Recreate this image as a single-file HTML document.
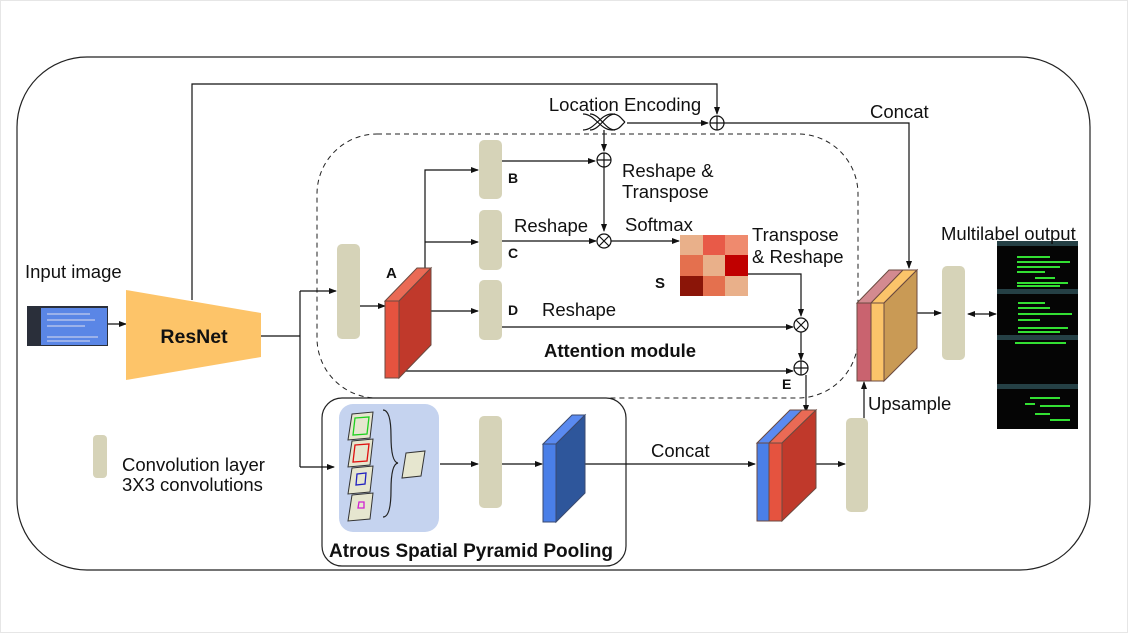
<!DOCTYPE html>
<html><head><meta charset="utf-8"><style>
html,body{margin:0;padding:0;background:#fff}
svg{display:block}
text{font-family:"Liberation Sans",sans-serif;font-size:18.5px;fill:#111}
.b{font-weight:bold}
</style></head><body>
<svg width="1128" height="633" viewBox="0 0 1128 633" xmlns="http://www.w3.org/2000/svg">
<defs>
<marker id="ar" markerWidth="8" markerHeight="8" refX="7" refY="4" orient="auto" markerUnits="userSpaceOnUse">
<path d="M0,1 L8,4 L0,7 z" fill="#111"/></marker>
<marker id="al" markerWidth="8" markerHeight="8" refX="1" refY="4" orient="auto" markerUnits="userSpaceOnUse">
<path d="M8,1 L0,4 L8,7 z" fill="#111"/></marker>
</defs>
<rect x="0.5" y="0.5" width="1127" height="632" fill="#fff" stroke="#e6e6e6"/>
<rect x="17" y="57" width="1073" height="513" rx="70" fill="none" stroke="#222" stroke-width="1.2"/>
<rect x="317" y="134" width="541" height="264" rx="60" fill="none" stroke="#222" stroke-dasharray="5,4"/>
<rect x="322" y="398" width="304" height="168" rx="20" fill="none" stroke="#222" stroke-width="1.2"/>
<rect x="339" y="404" width="100" height="128" rx="14" fill="#c5d3ef"/>

<g stroke="#111" stroke-width="1.2" fill="none">
<path d="M192,300 V84 H717 V114" marker-end="url(#ar)"/>
<path d="M627,123 H708" marker-end="url(#ar)"/>
<path d="M724,123 H909 V268" marker-end="url(#ar)"/>
<path d="M604,130 V151" marker-end="url(#ar)"/>
<path d="M95,324 H126" marker-end="url(#ar)"/>
<path d="M261,336 H300"/>
<path d="M300,291 V467"/>
<path d="M300,291 H336" marker-end="url(#ar)"/>
<path d="M300,467 H334" marker-end="url(#ar)"/>
<path d="M360,306 H385" marker-end="url(#ar)"/>
<path d="M425,268 V170 H478" marker-end="url(#ar)"/>
<path d="M425,242 H478" marker-end="url(#ar)"/>
<path d="M427,311 H478" marker-end="url(#ar)"/>
<path d="M502,161 H595" marker-end="url(#ar)"/>
<path d="M604,167 V231" marker-end="url(#ar)"/>
<path d="M502,241 H596" marker-end="url(#ar)"/>
<path d="M611,241 H679" marker-end="url(#ar)"/>
<path d="M748,274 H801 V316" marker-end="url(#ar)"/>
<path d="M502,327 H793" marker-end="url(#ar)"/>
<path d="M801,332 V360" marker-end="url(#ar)"/>
<path d="M404,371 H793" marker-end="url(#ar)"/>
<path d="M806,375 V412" marker-end="url(#ar)"/>
<path d="M440,464 H478" marker-end="url(#ar)"/>
<path d="M502,464 H542" marker-end="url(#ar)"/>
<path d="M585,464 H755" marker-end="url(#ar)"/>
<path d="M802,464 H845" marker-end="url(#ar)"/>
<path d="M864,418 V382" marker-end="url(#ar)"/>
<path d="M917,313 H941" marker-end="url(#ar)"/>
<path d="M968,314 H996" marker-start="url(#al)" marker-end="url(#ar)"/>
</g>

<g stroke="#111" stroke-width="1.2" fill="#fff">
<circle cx="717" cy="123" r="7"/><path d="M710,123H724M717,116V130"/>
<circle cx="604" cy="160" r="7"/><path d="M597,160H611M604,153V167"/>
<circle cx="604" cy="241" r="7"/><path d="M599,236L609,246M609,236L599,246"/>
<circle cx="801" cy="325" r="7"/><path d="M796,320L806,330M806,320L796,330"/>
<circle cx="801" cy="368" r="7"/><path d="M794,368H808M801,361V375"/>
</g>
<g stroke="#111" fill="none" stroke-width="1.2">
<path d="M583,114 C595,114 600,130 612,130 C620,130 622,124 625,122"/>
<path d="M583,130 C595,130 600,114 612,114 C620,114 622,120 625,122"/>
<path d="M590,114 C600,114 605,130 615,130 M590,130 C600,130 605,114 615,114"/>
</g>

<rect x="27" y="306" width="81" height="40" fill="#2a2f3a"/>
<rect x="41" y="308" width="66" height="37" fill="#5a86e6"/>
<g stroke="#dde" stroke-width="1"><path d="M47,314H90M47,320H95M47,326H85M47,337H98M47,341H90"/></g>
<polygon points="126,290 261,313 261,357 126,380" fill="#fdc469"/>
<text x="194" y="343" class="b" text-anchor="middle" style="font-size:19.5px">ResNet</text>

<g fill="#d6d3b8">
<rect x="337" y="244" width="23" height="95" rx="5"/>
<rect x="479" y="140" width="23" height="59" rx="5"/>
<rect x="479" y="210" width="23" height="60" rx="5"/>
<rect x="479" y="280" width="23" height="60" rx="5"/>
<rect x="479" y="416" width="23" height="92" rx="5"/>
<rect x="846" y="418" width="22" height="94" rx="5"/>
<rect x="942" y="266" width="23" height="94" rx="5"/>
<rect x="93" y="435" width="14" height="43" rx="4"/>
</g>

<g stroke="#6b4a40" stroke-width="1">
<polygon points="385,301 399,301 431,268 417,268" fill="#ea6a55"/>
<polygon points="399,301 431,268 431,345 399,378" fill="#c0392b"/>
<rect x="385" y="301" width="14" height="77" fill="#e5533f"/>
</g>
<g stroke="#3a4a70" stroke-width="1">
<polygon points="543,444 556,444 585,415 572,415" fill="#5a8af0"/>
<polygon points="556,444 585,415 585,493 556,522" fill="#2e569b"/>
<rect x="543" y="444" width="13" height="78" fill="#4a7fe8"/>
</g>
<g stroke="#6b4a40" stroke-width="1">
<polygon points="757,443 769,443 802,410 790,410" fill="#5a8af0"/>
<polygon points="769,443 782,443 816,410 802,410" fill="#ea6a55"/>
<polygon points="782,443 816,410 816,488 782,521" fill="#c0392b"/>
<rect x="757" y="443" width="12" height="78" fill="#4a7fe8"/>
<rect x="769" y="443" width="13" height="78" fill="#e5533f"/>
</g>
<g stroke="#6b4a40" stroke-width="1">
<polygon points="857,303 871,303 903,270 889,270" fill="#d38a90"/>
<polygon points="871,303 884,303 917,270 903,270" fill="#fbc46a"/>
<polygon points="884,303 917,270 917,348 884,381" fill="#c99a55"/>
<rect x="857" y="303" width="14" height="78" fill="#c9636f"/>
<rect x="871" y="303" width="13" height="78" fill="#fbc46a"/>
</g>

<g>
<rect x="680" y="235" width="23" height="20" fill="#e9b08a"/>
<rect x="703" y="235" width="22" height="20" fill="#e85a48"/>
<rect x="725" y="235" width="23" height="20" fill="#ef8a6e"/>
<rect x="680" y="255" width="23" height="21" fill="#e4704e"/>
<rect x="703" y="255" width="22" height="21" fill="#e9b08a"/>
<rect x="725" y="255" width="23" height="21" fill="#c00000"/>
<rect x="680" y="276" width="23" height="20" fill="#8b1508"/>
<rect x="703" y="276" width="22" height="20" fill="#e4704e"/>
<rect x="725" y="276" width="23" height="20" fill="#e9b08a"/>
</g>

<g stroke="#333" stroke-width="1" fill="#e6e6cf">
<polygon points="352,414 373,412 370,438 348,440"/>
<polygon points="352,441 373,439 370,465 348,467"/>
<polygon points="352,468 373,466 370,492 348,494"/>
<polygon points="352,495 373,493 370,519 348,521"/>
<polygon points="406,453 425,451 421,476 402,478"/>
</g>
<g fill="none" stroke-width="1.3">
<polygon points="355,418 369,417 367,434 353,435" stroke="#1fd01f"/>
<polygon points="355,445 369,444 367,461 353,462" stroke="#e01010"/>
<polygon points="357,474 366,473 365,484 356,485" stroke="#2020c0"/>
<polygon points="359,502 364,502 364,508 358,508" stroke="#d020d0"/>
</g>
<path d="M383,410 Q391,410 391,436 Q391,462 398,463 Q391,464 391,490 Q391,517 383,517" fill="none" stroke="#222" stroke-width="1.2"/>

<rect x="997" y="241" width="81" height="188" fill="#050505"/>
<g fill="#254045"><rect x="997" y="241" width="81" height="5"/><rect x="997" y="289" width="81" height="5"/><rect x="997" y="335" width="81" height="5"/><rect x="997" y="384" width="81" height="5"/></g>
<g stroke="#33e033" stroke-width="2">
<path d="M1017,257H1050M1017,262H1070M1017,267H1060M1017,272H1045M1035,278H1055M1017,283H1068M1017,286H1060"/>
<path d="M1018,303H1045M1018,308H1050M1018,314H1072M1018,320H1040M1018,328H1068M1018,332H1060"/>
<path d="M1015,343H1066"/>
<path d="M1030,398H1060M1025,404H1035M1040,406H1070M1035,414H1050M1050,420H1070"/>
</g>

<text x="25" y="278">Input image</text>
<text x="625" y="111" text-anchor="middle">Location Encoding</text>
<text x="870" y="118">Concat</text>
<text x="622" y="177">Reshape &amp;</text>
<text x="622" y="198">Transpose</text>
<text x="514" y="232">Reshape</text>
<text x="625" y="231">Softmax</text>
<text x="752" y="241">Transpose</text>
<text x="752" y="263">&amp; Reshape</text>
<text x="542" y="316">Reshape</text>
<text x="941" y="240">Multilabel output</text>
<text x="868" y="410">Upsample</text>
<text x="651" y="457">Concat</text>
<text x="122" y="471">Convolution layer</text>
<text x="122" y="491">3X3 convolutions</text>
<text x="620" y="357" class="b" text-anchor="middle" style="font-size:18.5px">Attention module</text>
<text x="471" y="557" class="b" text-anchor="middle" style="font-size:19px">Atrous Spatial Pyramid Pooling</text>
<text x="386" y="278" class="b" style="font-size:15px">A</text>
<text x="508" y="183" class="b" style="font-size:14px">B</text>
<text x="508" y="258" class="b" style="font-size:14px">C</text>
<text x="508" y="315" class="b" style="font-size:14px">D</text>
<text x="655" y="288" class="b" style="font-size:15px">S</text>
<text x="782" y="389" class="b" style="font-size:14px">E</text>
</svg>
</body></html>
